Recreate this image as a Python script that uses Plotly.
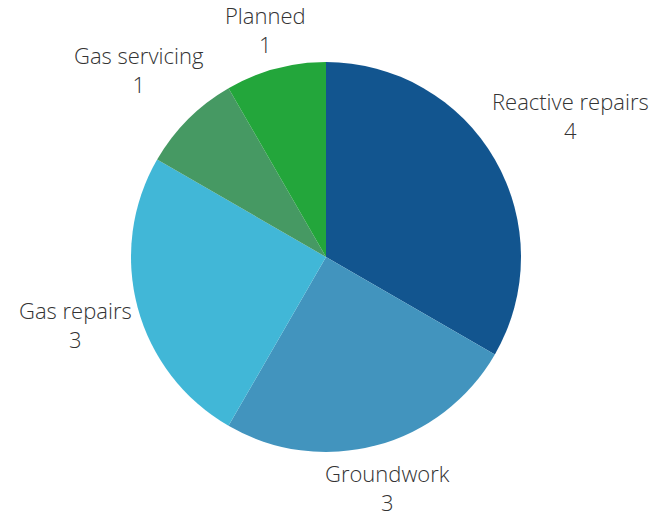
import math
import plotly.graph_objects as go

labels = ["Reactive repairs", "Groundwork", "Gas repairs", "Gas servicing", "Planned"]
values = [4, 3, 3, 1, 1]
colors = ["#12558F", "#4294BE", "#41B7D7", "#469963", "#23A63B"]

W, H = 662, 511
PAGE_MARGIN = 8  # default body margin of the written html page
# pie box in figure pixels (left, right, top, bottom)
PX0, PX1, PY0, PY1 = (131 - PAGE_MARGIN, 521 - PAGE_MARGIN,
                      62 - PAGE_MARGIN, 452 - PAGE_MARGIN)
dom_x = [PX0 / W, PX1 / W]
dom_y = [1 - PY1 / H, 1 - PY0 / H]

fig = go.Figure(go.Pie(
    labels=labels,
    values=values,
    sort=False,
    direction="clockwise",
    rotation=0,
    domain=dict(x=dom_x, y=dom_y),
    marker=dict(colors=colors, line=dict(width=0)),
    textinfo="none",
    hoverinfo="label+value",
    showlegend=False,
))

# data labels placed outside each slice, derived from the slice mid-angles
FONT_SIZE = 22
cx, cy = (PX0 + PX1) / 2, (PY0 + PY1) / 2
r = min(PX1 - PX0, PY1 - PY0) / 2
gap = 5
char_w = 0.45 * FONT_SIZE
box_h = 54
total = sum(values)
cum = 0
annotations = []
for lab, v in zip(labels, values):
    mid = (cum + v / 2) / total * 2 * math.pi
    cum += v
    s, c = math.sin(mid), math.cos(mid)
    w = char_w * len(lab)
    rc = r + gap + (w / 2) * abs(s) + (box_h / 2) * abs(c)
    x_px = cx + rc * s
    y_px = cy - rc * c
    annotations.append(dict(
        x=x_px / W, y=1 - y_px / H, xref="paper", yref="paper",
        xanchor="center", yanchor="middle", align="center",
        text=f"{lab}<br>{v}", showarrow=False,
        font=dict(family="Open Sans", size=FONT_SIZE, color="#333333", weight=300),
    ))

fig.update_layout(
    width=W, height=H,
    margin=dict(l=0, r=0, t=0, b=0),
    paper_bgcolor="white",
    plot_bgcolor="white",
    annotations=annotations,
)
fig.write_html("out.html")
